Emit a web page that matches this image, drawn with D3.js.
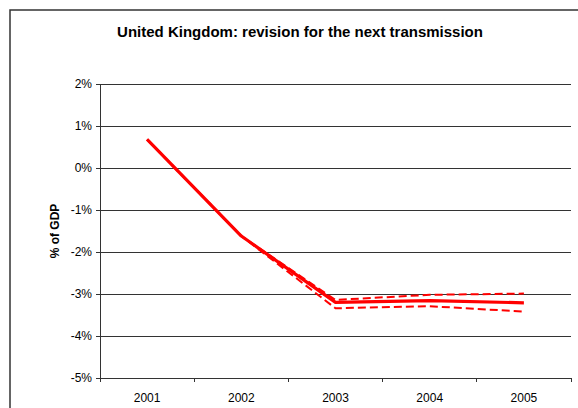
<!DOCTYPE html>
<html><head><meta charset="utf-8">
<script src="https://cdn.jsdelivr.net/npm/d3@7"></script>
<style>body{margin:0;background:#fff;}svg{display:block;font-family:Arial,"Liberation Sans",sans-serif;}</style>
</head><body>
<svg id="c" width="578" height="408"></svg>
<script>
const years = ["2001","2002","2003","2004","2005"];
const central = [0.68, -1.62, -3.2, -3.16, -3.21];
const upper = [0.68, -1.62, -3.14, -3.02, -2.99];
const lower = [0.68, -1.62, -3.34, -3.29, -3.42];
const yTicks = [2,1,0,-1,-2,-3,-4,-5];
const title = "United Kingdom: revision for the next transmission";
const yLabel = "% of GDP";

const svg = d3.select("#c");
const L=100,R=571,T=84,B=378;
svg.append("rect").attr("x",10).attr("y",10).attr("width",600).attr("height",420)
  .attr("fill","none").attr("stroke","#333").attr("stroke-width",1.5);

const x = d3.scaleBand().domain(years).range([L,R]);
const y = d3.scaleLinear().domain([-5,2]).range([B,T]);

// gridlines
svg.append("g").selectAll("line").data(yTicks.filter(d=>d>-5)).join("line")
  .attr("x1",L).attr("x2",R).attr("y1",d=>y(d)).attr("y2",d=>y(d))
  .attr("stroke","#333").attr("stroke-width",1).attr("shape-rendering","crispEdges");

// y axis
const ya = svg.append("g").attr("transform",`translate(${L},0)`)
  .call(d3.axisLeft(y).tickValues(yTicks).tickFormat(d=>d+"%").tickSize(4).tickPadding(4));
ya.select(".domain").attr("stroke","#333");
ya.selectAll(".tick line").attr("stroke","#333");
ya.selectAll("text").attr("font-size",12).attr("fill","#000").attr("font-family","Arial,'Liberation Sans',sans-serif");

// x axis
const xa = svg.append("g").attr("transform",`translate(0,${B})`)
  .call(d3.axisBottom(x).tickSize(0).tickPadding(15));
xa.select(".domain").attr("stroke","#333");
xa.selectAll("text").attr("font-size",12).attr("fill","#000").attr("font-family","Arial,'Liberation Sans',sans-serif");
const bounds = years.map(d=>x(d)).concat([x(years[years.length-1])+x.bandwidth()]);
svg.append("g").selectAll("line").data(bounds).join("line")
  .attr("x1",d=>d).attr("x2",d=>d).attr("y1",B).attr("y2",B+4)
  .attr("stroke","#333").attr("shape-rendering","crispEdges");

const line = d3.line().x((d,i)=>x(years[i])+x.bandwidth()/2).y(d=>y(d));
svg.append("path").datum(upper).attr("d",line).attr("fill","none")
  .attr("stroke","#ff0000").attr("stroke-width",2).attr("stroke-dasharray","8,4");
svg.append("path").datum(lower).attr("d",line).attr("fill","none")
  .attr("stroke","#ff0000").attr("stroke-width",2).attr("stroke-dasharray","8,4");
svg.append("path").datum(central).attr("d",line).attr("fill","none")
  .attr("stroke","#ff0000").attr("stroke-width",3.2).attr("stroke-linejoin","round");

svg.append("text").attr("x",300).attr("y",37).attr("text-anchor","middle")
  .attr("font-size",15).attr("font-weight","bold").text(title);
svg.append("text").attr("transform",`translate(59,${(T+B)/2}) rotate(-90)`)
  .attr("text-anchor","middle").attr("font-size",12).attr("font-weight","bold").text(yLabel);
</script>
</body></html>
